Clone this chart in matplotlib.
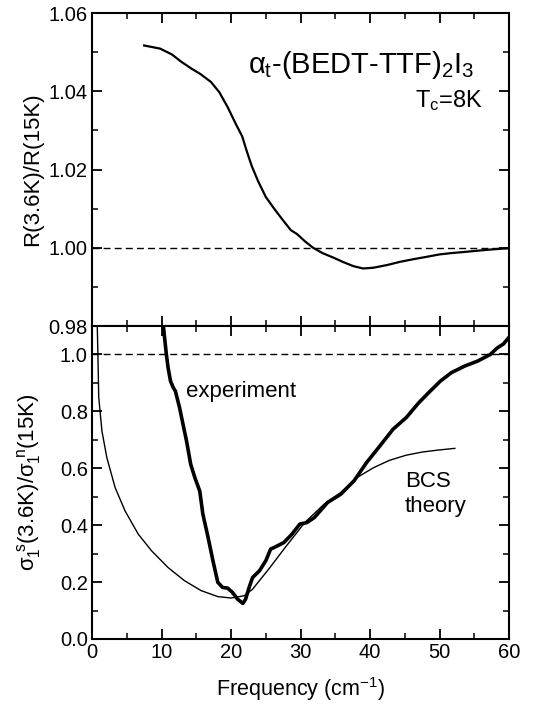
import matplotlib.pyplot as plt
import numpy as np
from matplotlib.ticker import MultipleLocator, FormatStrFormatter

plt.rcParams['font.family'] = ['Liberation Sans', 'DejaVu Sans']
plt.rcParams['mathtext.fontset'] = 'custom'
plt.rcParams['mathtext.rm'] = 'Liberation Sans'
plt.rcParams['mathtext.it'] = 'Liberation Sans'
plt.rcParams['mathtext.bf'] = 'Liberation Sans:bold'

# Painel superior: razão de refletividade R(3.6K)/R(15K)
freq_r = [7.5, 9.8, 11.5, 12.8, 14.3, 15.6, 17.1, 18.3, 19.5, 20.7, 21.6, 22.3,
          23.0, 23.9, 25.0, 26.2, 27.4, 28.6, 29.5, 30.6, 31.8, 33.2, 34.7, 36.2,
          37.6, 39.0, 40.5, 42.5, 44.3, 46.3, 48.2, 50.0, 51.5, 54.0, 57.0, 60.0]
razao_r = [1.0517, 1.0509, 1.0494, 1.0476, 1.0458, 1.0444, 1.0424, 1.0398, 1.0360,
           1.0316, 1.0285, 1.0245, 1.0208, 1.0170, 1.0130, 1.0100, 1.0072, 1.0045,
           1.0035, 1.0017, 1.0000, 0.9986, 0.9975, 0.9963, 0.9953, 0.9947, 0.9949,
           0.9956, 0.9964, 0.9971, 0.9977, 0.9983, 0.9986, 0.9990, 0.9995, 0.9999]

# Painel inferior: condutividade experimental
freq_exp = [10.2, 10.7, 10.95, 11.3, 11.7, 12.0, 12.6, 13.1, 13.6, 14.2, 14.8, 15.5,
            15.95, 16.7, 17.4, 18.1, 18.8, 19.5, 20.2, 20.95, 21.7, 22.1, 22.6, 23.1,
            24.1, 25.0, 25.7, 26.4, 27.6, 28.75, 29.9, 30.9, 32.0, 33.9, 35.8, 37.7,
            39.5, 41.4, 43.3, 45.2, 47.0, 48.4, 50.1, 51.7, 53.6, 55.5, 57.3, 58.3,
            59.2, 60.0]
sigma_exp = [1.115, 1.0, 0.953, 0.906, 0.883, 0.871, 0.813, 0.754, 0.696, 0.614, 0.567,
             0.520, 0.439, 0.357, 0.275, 0.199, 0.181, 0.179, 0.164, 0.140, 0.125, 0.140,
             0.181, 0.216, 0.240, 0.275, 0.316, 0.324, 0.339, 0.368, 0.404, 0.409, 0.427,
             0.480, 0.509, 0.556, 0.620, 0.678, 0.737, 0.778, 0.830, 0.865, 0.906, 0.936,
             0.959, 0.977, 1.000, 1.023, 1.037, 1.061]

# Teoria BCS
freq_bcs = [0.75, 0.85, 0.97, 1.43, 2.14, 3.33, 4.76, 6.67, 8.57, 10.95, 13.3, 15.7,
            18.1, 20.0, 21.9, 23.1, 25.5, 27.8, 30.6, 33.4, 35.8, 38.1, 40.5, 42.8,
            45.2, 47.5, 49.8, 52.2]
sigma_bcs = [1.11, 1.0, 0.85, 0.731, 0.637, 0.532, 0.450, 0.368, 0.310, 0.251, 0.205,
             0.170, 0.149, 0.144, 0.152, 0.175, 0.248, 0.322, 0.409, 0.474, 0.515, 0.567,
             0.602, 0.628, 0.646, 0.657, 0.664, 0.670]

fig, (ax1, ax2) = plt.subplots(2, 1, figsize=(5.37, 7.15), dpi=100, sharex=True)
fig.subplots_adjust(left=0.1713, right=0.948, top=0.9818, bottom=0.1063, hspace=0)

ax1.plot(freq_r, razao_r, color='black', lw=1.6)
ax1.axhline(1.0, color='black', lw=1.0, ls=(0, (5, 3)))
ax1.set_ylim(0.98, 1.06)
ax1.yaxis.set_major_locator(MultipleLocator(0.02))
ax1.yaxis.set_minor_locator(MultipleLocator(0.01))
ax1.yaxis.set_major_formatter(FormatStrFormatter('%.2f'))
ax1.set_ylabel('R(3.6K)/R(15K)', fontsize=16)
ax1.text(55.0, 1.0467, r'$\alpha_t$-(BEDT-TTF)$_2$I$_3$', fontsize=21,
         ha='right', va='center')
ax1.text(56.3, 1.0377, r'T$_c$=8K', fontsize=17, ha='right', va='center')

ax2.plot(freq_exp, sigma_exp, color='black', lw=2.6)
ax2.plot(freq_bcs, sigma_bcs, color='black', lw=1.0)
ax2.axhline(1.0, color='black', lw=1.0, ls=(0, (5, 3)))
ax2.set_ylim(0, 1.1)
ax2.set_xlim(0, 60)
ax2.yaxis.set_major_locator(MultipleLocator(0.2))
ax2.yaxis.set_minor_locator(MultipleLocator(0.1))
ax2.yaxis.set_major_formatter(FormatStrFormatter('%.1f'))
ax2.xaxis.set_major_locator(MultipleLocator(10))
ax2.xaxis.set_minor_locator(MultipleLocator(5))
ax2.set_ylabel(r'$\sigma_1^{\ s}$(3.6K)/$\sigma_1^{\ n}$(15K)', fontsize=16)
ax2.set_xlabel(r'Frequency (cm$^{-1}$)', fontsize=15.5, labelpad=9)
ax2.text(13.5, 0.87, 'experiment', fontsize=16, ha='left', va='center')
ax2.text(45.0, 0.51, 'BCS\ntheory', fontsize=16, ha='left', va='center',
         linespacing=1.25)

for ax in (ax1, ax2):
    ax.tick_params(which='both', direction='in', top=True, right=True,
                   labelsize=14.5, pad=3)
    ax.tick_params(which='major', length=7, width=1.3)
    ax.tick_params(which='minor', length=4, width=1.1)
    for s in ax.spines.values():
        s.set_linewidth(1.5)

fig.align_ylabels([ax1, ax2])
plt.savefig('out.png', dpi=100)
